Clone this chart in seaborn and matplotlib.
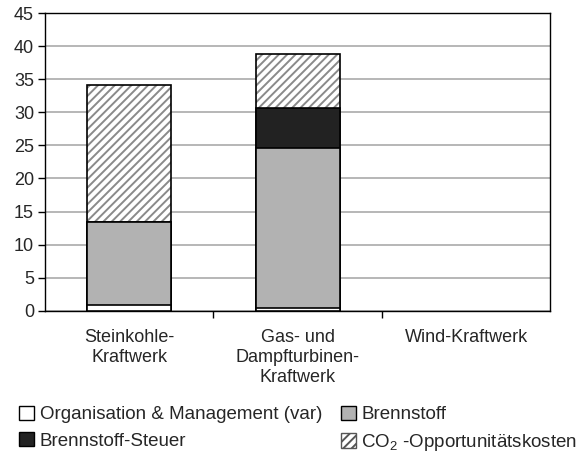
import matplotlib
matplotlib.use("Agg")
import matplotlib.pyplot as plt
from matplotlib.patches import Patch
import numpy as np
import pandas as pd
import seaborn as sns

sns.set_style("white")
plt.rcParams['font.family'] = ['Liberation Sans', 'DejaVu Sans']
plt.rcParams['mathtext.fontset'] = 'custom'
plt.rcParams['mathtext.rm'] = 'Liberation Sans'
plt.rcParams['hatch.linewidth'] = 1.4

categories = ["Steinkohle-\nKraftwerk", "Gas- und\nDampfturbinen-\nKraftwerk", "Wind-Kraftwerk"]
org_mgmt = [0.9, 0.5, 0.0]
brennstoff = [12.5, 24.1, 0.0]
steuer = [0.0, 6.1, 0.0]
co2 = [20.8, 8.1, 0.0]

df = pd.DataFrame({"kat": categories, "org": org_mgmt, "brenn": brennstoff,
                   "steuer": steuer, "co2": co2})
df["c1"] = df["org"]
df["c2"] = df["c1"] + df["brenn"]
df["c3"] = df["c2"] + df["steuer"]
df["c4"] = df["c3"] + df["co2"]

fig, ax = plt.subplots(figsize=(5.78, 4.66), dpi=100)
fig.subplots_adjust(left=0.078, right=0.952, top=0.972, bottom=0.333)

w = 0.5
# hatched CO2 layer (grey hatch), drawn as total height
sns.barplot(data=df, x="kat", y="c4", color="white", edgecolor="#8a8a8a",
            hatch="////", linewidth=0, width=w, ax=ax, zorder=2)
sns.barplot(data=df, x="kat", y="c4", fill=False, edgecolor="black",
            linewidth=1.2, width=w, ax=ax, zorder=3)
sns.barplot(data=df, x="kat", y="c3", color="#222222", edgecolor="black",
            linewidth=1.2, saturation=1, width=w, ax=ax, zorder=4)
sns.barplot(data=df, x="kat", y="c2", color="#b2b2b2", edgecolor="black",
            linewidth=1.2, saturation=1, width=w, ax=ax, zorder=5)
sns.barplot(data=df, x="kat", y="c1", color="white", edgecolor="black",
            linewidth=1.2, saturation=1, width=w, ax=ax, zorder=6)

# hide empty bars (Wind-Kraftwerk)
for p in ax.patches:
    if p.get_height() == 0:
        p.set_visible(False)

ax.set_ylim(0, 45)
ax.set_xlim(-0.5, 2.5)
ax.set_yticks(np.arange(0, 46, 5))
ax.yaxis.grid(True, color="#aaaaaa", linewidth=1.2, zorder=0)
ax.set_axisbelow(True)
ax.set_xlabel("")
ax.set_ylabel("")
for s in ax.spines.values():
    s.set_color("black")
    s.set_linewidth(1.0)
ax.tick_params(axis="y", direction="out", length=5, width=1, color="black",
               labelsize=13, left=True, pad=3)
ax.set_xticks([0, 1, 2])
ax.set_xticklabels(categories, fontsize=13, linespacing=1.25)
ax.tick_params(axis="x", length=0, pad=13)
ax.set_xticks([0.5, 1.5], minor=True)
ax.tick_params(axis="x", which="minor", direction="out", length=5, width=1,
               color="black", bottom=True)

# order so rows read: Org | Brennstoff, Steuer | CO2
handles = [
    Patch(facecolor="white", edgecolor="black", label="Organisation & Management (var)"),
    Patch(facecolor="#222222", edgecolor="black", label="Brennstoff-Steuer"),
    Patch(facecolor="#b2b2b2", edgecolor="black", label="Brennstoff"),
    Patch(facecolor="white", edgecolor="#555555", hatch="////",
          label="CO$_\\mathregular{2}$ -Opportunitätskosten"),
]
fig.legend(handles=handles, ncol=2, loc="lower left", bbox_to_anchor=(0.01, 0.0),
           frameon=False, fontsize=13.5, handlelength=0.8, handleheight=0.8,
           handletextpad=0.3, columnspacing=1.0, labelspacing=0.45, borderpad=0.2)

fig.savefig("out.png", dpi=100)
